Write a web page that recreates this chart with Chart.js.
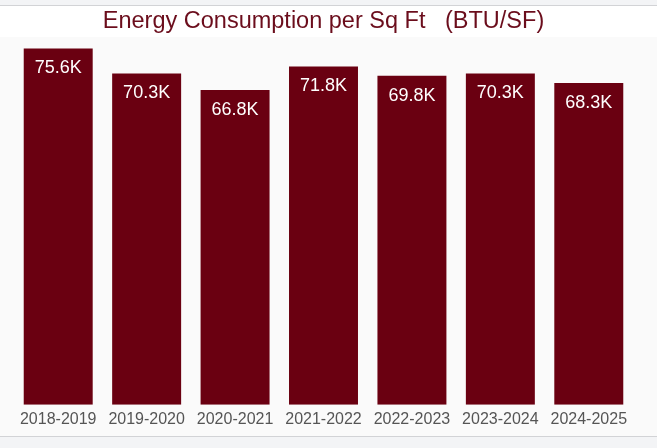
<!DOCTYPE html>
<html>
<head>
<meta charset="utf-8">
<title>Energy Consumption per Sq Ft</title>
<script src="https://cdn.jsdelivr.net/npm/chart.js@4.4.1/dist/chart.umd.min.js"></script>
<style>
    html, body {
        margin: 0;
        padding: 0;
        background: #f3f4f6;
        overflow: hidden;
    }
    .card {
        margin-top: 5px;
        border-top: 1px solid #d2d3d6;
        border-bottom: 1px solid #d2d3d6;
        background: #ffffff;
        width: 657px;
        height: 430px;
        position: relative;
    }
    #energyChart {
        background: linear-gradient(#ffffff 0, #ffffff 31px, #fafafa 31px);
    }
</style>
</head>
<body>
<div class="card">
    <canvas id="energyChart"></canvas>
</div>
<script>
// Data
const years = ['2018-2019', '2019-2020', '2020-2021', '2021-2022', '2022-2023', '2023-2024', '2024-2025'];
const btuPerSf = [75600, 70300, 66800, 71800, 69800, 70300, 68300];

const barColor = '#6a0011';
const titleColor = '#6b0d1c';

function formatK(v) {
    return (v / 1000).toFixed(1) + 'K';
}

// Value labels drawn inside the top of each bar
const barLabels = {
    id: 'barLabels',
    afterDatasetsDraw(chart) {
        const ctx = chart.ctx;
        const meta = chart.getDatasetMeta(0);
        ctx.save();
        ctx.font = '18px "Liberation Sans", Arial, sans-serif';
        ctx.fillStyle = '#ffffff';
        ctx.textAlign = 'center';
        ctx.textBaseline = 'middle';
        meta.data.forEach((bar, i) => {
            ctx.fillText(formatK(btuPerSf[i]), bar.x, bar.y + 20);
        });
        ctx.restore();
    }
};

const ctx = document.getElementById('energyChart').getContext('2d');

new Chart(ctx, {
    type: 'bar',
    data: {
        labels: years,
        datasets: [{
            label: 'BTU/SF',
            data: btuPerSf,
            backgroundColor: barColor,
            borderWidth: 0,
            categoryPercentage: 1,
            barPercentage: 0.78
        }]
    },
    options: {
        responsive: true,
        maintainAspectRatio: false,
        animation: false,
        layout: {
            padding: { left: 14, right: 24, top: 0, bottom: 2 }
        },
        scales: {
            x: {
                grid: { display: false, drawTicks: false },
                border: { display: false },
                ticks: {
                    color: '#555555',
                    padding: 5,
                    font: { family: '"Liberation Sans", Arial, sans-serif', size: 16 }
                }
            },
            y: {
                display: false,
                min: 0,
                max: 78000
            }
        },
        plugins: {
            legend: { display: false },
            tooltip: { enabled: false },
            title: {
                display: true,
                text: 'Energy Consumption per Sq Ft   (BTU/SF)',
                color: titleColor,
                padding: { top: 1, bottom: 2 },
                font: { family: '"Liberation Sans", Arial, sans-serif', size: 23.5, weight: 'normal' }
            }
        }
    },
    plugins: [barLabels]
});
</script>
</body>
</html>
